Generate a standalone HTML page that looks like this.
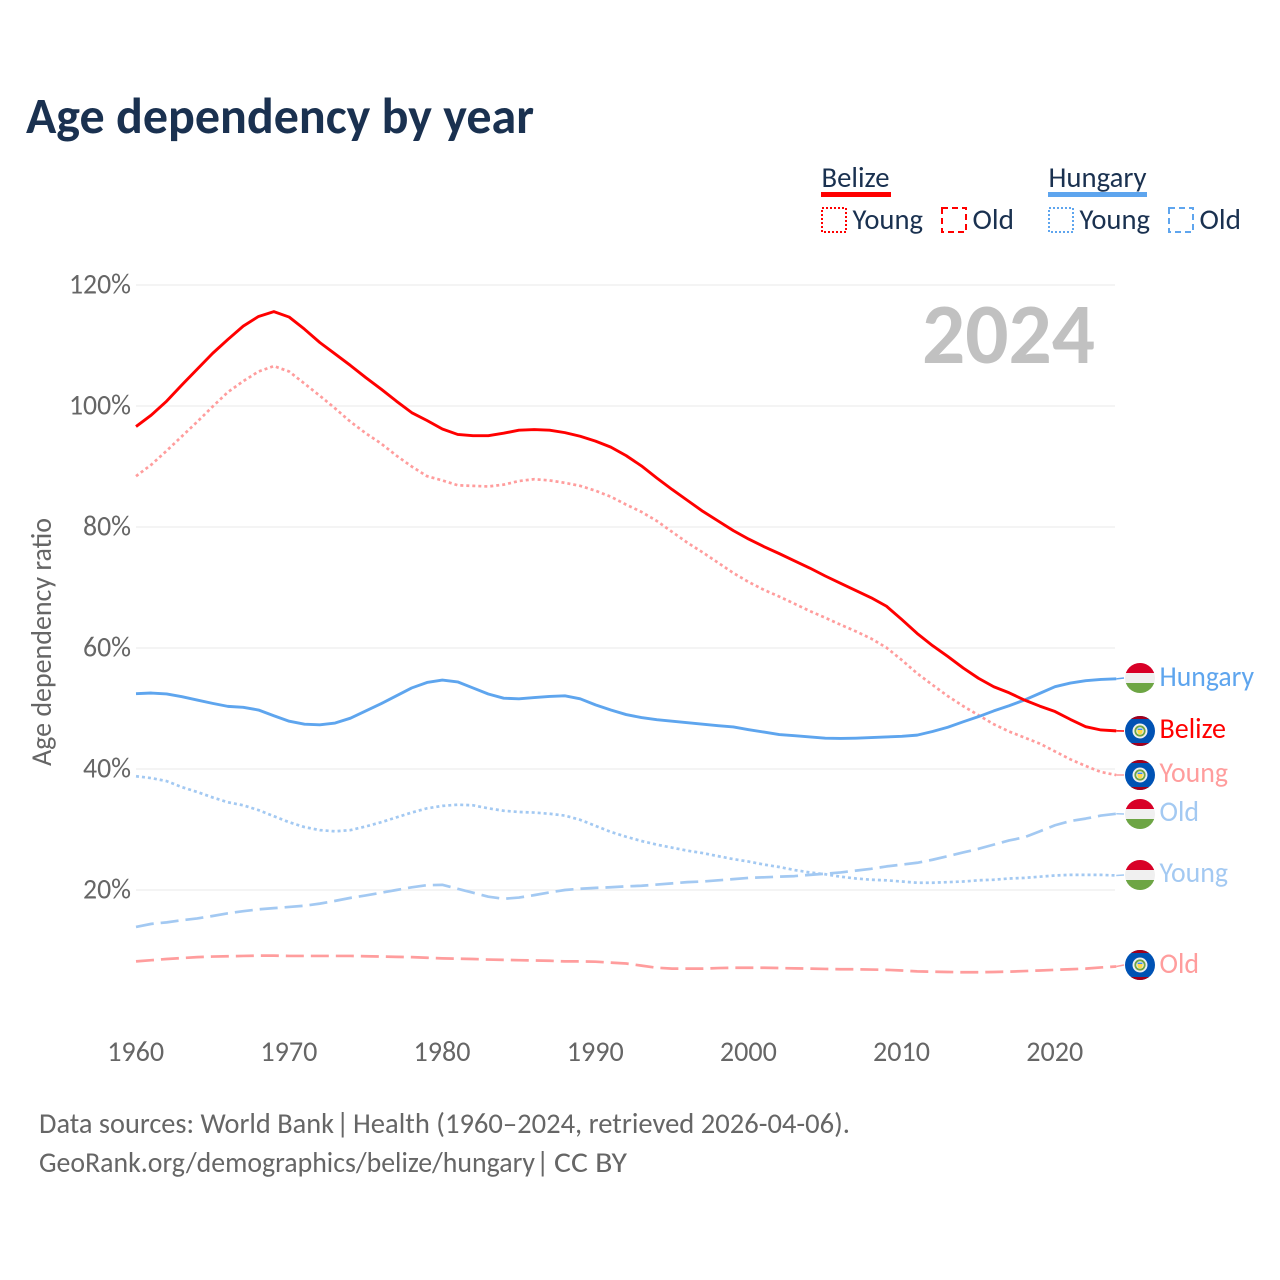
<!DOCTYPE html>
<html lang="en">
<head>
<meta charset="utf-8">
<title>Age dependency by year</title>
<style>
html,body{margin:0;padding:0;background:#fff;}
svg{display:block;}
text{font-family:"Carlito","Lato","Liberation Sans",sans-serif;}
</style>
</head>
<body>
<svg id="chart" xmlns="http://www.w3.org/2000/svg" width="1280" height="1280" viewBox="0 0 1280 1280">
<defs>
<clipPath id="flag-clip"><circle cx="0" cy="0" r="15"/></clipPath>
<g id="flag-hu">
<g clip-path="url(#flag-clip)">
<rect x="-15" y="-15" width="30" height="30" fill="#f0f0f0"/>
<rect x="-15" y="-15" width="30" height="10" fill="#d80027"/>
<rect x="-15" y="5" width="30" height="10" fill="#6da544"/>
</g>
</g>
<g id="flag-bz">
<g clip-path="url(#flag-clip)">
<rect x="-15" y="-15" width="30" height="30" fill="#0052b4"/>
<rect x="-15" y="-15" width="30" height="3" fill="#a2001d"/>
<rect x="-15" y="12" width="30" height="3" fill="#a2001d"/>
<circle r="7.5" fill="#f0f0f0"/>
<circle r="5.6" fill="#6da544"/>
<circle r="3.8" fill="#f0f0f0"/>
<path d="M-2.6 -1 H2.6 V0.6 A2.6 2.6 0 0 1 -2.6 0.6 Z" fill="#ffda44"/>
<rect x="-2.4" y="-2.4" width="4.8" height="1.4" fill="#338af3"/>
</g>
</g>
</defs>

<rect x="0" y="0" width="1280" height="1280" fill="#ffffff"/>

<text x="26" y="133" font-size="51" font-weight="700" fill="#1a3150" textLength="508" lengthAdjust="spacingAndGlyphs">Age dependency by year</text>

<g>
<text x="821.5" y="187" font-size="29" fill="#1a3150" textLength="68" lengthAdjust="spacingAndGlyphs">Belize</text>
<rect x="821" y="192" width="70" height="5" fill="#ff0000"/>
<rect x="822" y="208" width="24" height="24" fill="none" stroke="#ff0000" stroke-width="2" stroke-dasharray="2 2"/>
<text x="852.5" y="229" font-size="29" fill="#1a3150" textLength="70.5" lengthAdjust="spacingAndGlyphs">Young</text>
<rect x="942" y="208" width="24" height="24" fill="none" stroke="#ff0000" stroke-width="2" stroke-dasharray="6 4"/>
<text x="972.5" y="229" font-size="29" fill="#1a3150" textLength="41.5" lengthAdjust="spacingAndGlyphs">Old</text>
<text x="1048.5" y="187" font-size="29" fill="#1a3150" textLength="98" lengthAdjust="spacingAndGlyphs">Hungary</text>
<rect x="1048" y="192" width="99" height="5" fill="#5ea5ee"/>
<rect x="1049" y="208" width="24" height="24" fill="none" stroke="#5ea5ee" stroke-width="2" stroke-dasharray="2 2"/>
<text x="1079.5" y="229" font-size="29" fill="#1a3150" textLength="70.5" lengthAdjust="spacingAndGlyphs">Young</text>
<rect x="1169" y="208" width="24" height="24" fill="none" stroke="#5ea5ee" stroke-width="2" stroke-dasharray="6 4"/>
<text x="1199.5" y="229" font-size="29" fill="#1a3150" textLength="41.5" lengthAdjust="spacingAndGlyphs">Old</text>
</g>

<g id="grid"></g>
<g id="y-ticks"></g>
<g id="x-ticks"></g>

<text transform="translate(51,642) rotate(-90)" text-anchor="middle" font-size="29" fill="#666666" textLength="248" lengthAdjust="spacingAndGlyphs">Age dependency ratio</text>

<text x="922" y="363" font-size="86" font-weight="700" fill="#c1c1c1" textLength="173" lengthAdjust="spacingAndGlyphs">2024</text>

<g id="connectors"></g>
<g id="series"></g>

<g>
<use href="#flag-hu" transform="translate(1140,678)"/>
<text x="1159.5" y="686" font-size="29" fill="#5ea5ee" textLength="94.5" lengthAdjust="spacingAndGlyphs">Hungary</text>
<use href="#flag-bz" transform="translate(1140,731)"/>
<text x="1159.5" y="738" font-size="29" fill="#ff0000" textLength="66.5" lengthAdjust="spacingAndGlyphs">Belize</text>
<use href="#flag-bz" transform="translate(1140,775)"/>
<text x="1159.5" y="782" font-size="29" fill="#ff9d9d" textLength="68.5" lengthAdjust="spacingAndGlyphs">Young</text>
<use href="#flag-hu" transform="translate(1140,814)"/>
<text x="1159.5" y="821" font-size="29" fill="#a3c9f2" textLength="39.5" lengthAdjust="spacingAndGlyphs">Old</text>
<use href="#flag-hu" transform="translate(1140,875)"/>
<text x="1159.5" y="882" font-size="29" fill="#a3c9f2" textLength="68.5" lengthAdjust="spacingAndGlyphs">Young</text>
<use href="#flag-bz" transform="translate(1140,965)"/>
<text x="1159.5" y="973" font-size="29" fill="#ff9d9d" textLength="39.5" lengthAdjust="spacingAndGlyphs">Old</text>
</g>

<g>
<text x="39" y="1133" font-size="29" fill="#666666" textLength="295" lengthAdjust="spacingAndGlyphs">Data sources: World Bank</text>
<text x="336" y="1133" font-size="29" fill="#666666">|</text>
<text x="353" y="1133" font-size="29" fill="#666666" textLength="497" lengthAdjust="spacingAndGlyphs">Health (1960–2024, retrieved 2026-04-06).</text>
<text x="39" y="1172" font-size="29" fill="#666666" textLength="496" lengthAdjust="spacingAndGlyphs">GeoRank.org/demographics/belize/hungary</text>
<text x="536" y="1172" font-size="29" fill="#666666">|</text>
<text x="554" y="1172" font-size="29" fill="#666666" textLength="73" lengthAdjust="spacingAndGlyphs">CC BY</text>
</g>
</svg>

<script>
const startYear = 1960;
const xTickYears = [1960, 1970, 1980, 1990, 2000, 2010, 2020];
const yTickValues = [20, 40, 60, 80, 100, 120];
const yTickLabels = ['20%', '40%', '60%', '80%', '100%', '120%'];

const belizeTotal = [96.6, 98.5, 100.8, 103.5, 106.1, 108.7, 111, 113.2, 114.8, 115.6,
  114.7, 112.7, 110.5, 108.6, 106.7, 104.7, 102.8, 100.8, 98.9, 97.6,
  96.2, 95.3, 95.1, 95.1, 95.5, 96, 96.1, 96, 95.6, 95,
  94.2, 93.2, 91.8, 90.1, 88.1, 86.2, 84.4, 82.6, 81, 79.4,
  78, 76.75, 75.6, 74.4, 73.2, 71.9, 70.7, 69.5, 68.3, 66.9,
  64.7, 62.4, 60.4, 58.6, 56.7, 55, 53.6, 52.6, 51.4, 50.4,
  49.5, 48.2, 47, 46.45, 46.3];
const belizeYoung = [88.4, 90.3, 92.6, 95, 97.4, 99.9, 102.3, 104.1, 105.7, 106.6,
  105.7, 103.7, 101.7, 99.6, 97.4, 95.5, 93.8, 91.8, 90, 88.4,
  87.7, 86.9, 86.8, 86.7, 87, 87.6, 87.9, 87.7, 87.3, 86.8,
  86, 85, 83.7, 82.5, 81, 79.2, 77.4, 75.8, 74.1, 72.4,
  70.9, 69.6, 68.5, 67.3, 66.1, 65, 63.85, 62.75, 61.55, 60.05,
  58, 55.8, 53.9, 52.05, 50.4, 48.9, 47.4, 46.2, 45.2, 44.2,
  42.9, 41.6, 40.5, 39.5, 39];
const belizeOld = [8.2, 8.4, 8.6, 8.75, 8.9, 9, 9.05, 9.1, 9.15, 9.15,
  9.1, 9.1, 9.1, 9.1, 9.1, 9.05, 9, 8.95, 8.9, 8.8,
  8.7, 8.65, 8.6, 8.5, 8.45, 8.4, 8.35, 8.3, 8.2, 8.2,
  8.15, 8, 7.85, 7.5, 7.15, 7, 7, 7, 7.1, 7.15,
  7.15, 7.15, 7.1, 7.05, 7, 6.95, 6.9, 6.9, 6.85, 6.8,
  6.7, 6.55, 6.5, 6.45, 6.4, 6.4, 6.45, 6.5, 6.6, 6.7,
  6.8, 6.9, 7, 7.2, 7.35];
const hungaryTotal = [52.45, 52.56, 52.4, 51.95, 51.4, 50.85, 50.35, 50.2, 49.75, 48.8,
  47.9, 47.4, 47.3, 47.6, 48.4, 49.6, 50.8, 52.1, 53.4, 54.3,
  54.7, 54.4, 53.4, 52.4, 51.7, 51.6, 51.8, 52, 52.1, 51.6,
  50.6, 49.75, 49, 48.5, 48.15, 47.9, 47.65, 47.4, 47.15, 46.95,
  46.5, 46.1, 45.7, 45.5, 45.3, 45.1, 45.05, 45.1, 45.2, 45.3,
  45.4, 45.6, 46.2, 46.9, 47.8, 48.65, 49.6, 50.45, 51.4, 52.5,
  53.6, 54.2, 54.6, 54.8, 54.9];
const hungaryYoung = [38.8, 38.5, 38, 37, 36.2, 35.3, 34.5, 34, 33.2, 32.2,
  31.2, 30.4, 29.9, 29.7, 29.9, 30.5, 31.2, 32, 32.8, 33.5,
  33.9, 34.1, 34, 33.5, 33.1, 32.9, 32.8, 32.6, 32.3, 31.6,
  30.6, 29.6, 28.8, 28.1, 27.5, 27, 26.5, 26.1, 25.6, 25.1,
  24.7, 24.2, 23.8, 23.3, 22.9, 22.6, 22.2, 21.9, 21.7, 21.6,
  21.4, 21.2, 21.2, 21.3, 21.4, 21.6, 21.7, 21.9, 22, 22.2,
  22.4, 22.5, 22.5, 22.5, 22.4];
const hungaryOld = [13.9, 14.4, 14.65, 15, 15.3, 15.7, 16.15, 16.5, 16.8, 17,
  17.2, 17.4, 17.75, 18.2, 18.7, 19.1, 19.55, 20, 20.45, 20.8,
  20.85, 20.2, 19.55, 18.9, 18.55, 18.75, 19.15, 19.6, 20, 20.2,
  20.35, 20.45, 20.6, 20.7, 20.9, 21.1, 21.3, 21.4, 21.6, 21.8,
  22, 22.1, 22.2, 22.3, 22.5, 22.7, 22.9, 23.2, 23.5, 23.9,
  24.2, 24.5, 25, 25.6, 26.2, 26.8, 27.5, 28.2, 28.7, 29.7,
  30.7, 31.4, 31.8, 32.3, 32.6];

const SVG_NS = 'http://www.w3.org/2000/svg';
function xScale(year) { return 136 + (year - 1960) * 15.317; }
function yScale(value) { return 1011 - value * 6.05; }
function make(tag, parentId) {
  const el = document.createElementNS(SVG_NS, tag);
  document.getElementById(parentId).appendChild(el);
  return el;
}

yTickValues.forEach(function (value, i) {
  const line = make('line', 'grid');
  
  
  line.setAttribute('x1', 136);
  line.setAttribute('x2', 1115);
  line.setAttribute('y1', yScale(value));
  line.setAttribute('y2', yScale(value));
  line.setAttribute('stroke', '#e8e8e8');
  line.setAttribute('stroke-width', 1);

  const label = make('text', 'y-ticks');
  
  
  label.setAttribute('x', 131);
  label.setAttribute('y', yScale(value) + 8.5);
  label.setAttribute('text-anchor', 'end');
  label.setAttribute('font-size', 29);
  label.setAttribute('fill', '#666666');
  label.setAttribute('textLength', yTickLabels[i].length === 4 ? 62 : 48);
  label.setAttribute('lengthAdjust', 'spacingAndGlyphs');
  label.textContent = yTickLabels[i];
});

xTickYears.forEach(function (year) {
  const label = make('text', 'x-ticks');
  
  
  label.setAttribute('x', xScale(year) - 0.3);
  label.setAttribute('y', 1061);
  label.setAttribute('text-anchor', 'middle');
  label.setAttribute('font-size', 29);
  label.setAttribute('fill', '#666666');
  label.setAttribute('textLength', 57);
  label.setAttribute('lengthAdjust', 'spacingAndGlyphs');
  label.textContent = String(year);
});

const seriesList = [
  { key: 'hungary-old', values: hungaryOld, color: '#a3c9f2', width: 2.7, dash: '18 7', flagY: 814 },
  { key: 'hungary-young', values: hungaryYoung, color: '#a3c9f2', width: 2.7, dash: '3 3', flagY: 875 },
  { key: 'belize-old', values: belizeOld, color: '#ff9d9d', width: 2.7, dash: '18 7', flagY: 965 },
  { key: 'belize-young', values: belizeYoung, color: '#ff9d9d', width: 2.7, dash: '3 3', flagY: 775 },
  { key: 'hungary-total', values: hungaryTotal, color: '#5ea5ee', width: 2.9, dash: null, flagY: 678 },
  { key: 'belize-total', values: belizeTotal, color: '#ff0000', width: 2.9, dash: null, flagY: 731 }
];

seriesList.forEach(function (s) {
  const d = s.values.map(function (v, i) {
    return (i ? 'L' : 'M') + xScale(startYear + i).toFixed(2) + ' ' + yScale(v).toFixed(2);
  }).join(' ');
  const path = make('path', 'series');
  
  
  path.setAttribute('d', d);
  path.setAttribute('fill', 'none');
  path.setAttribute('stroke', s.color);
  path.setAttribute('stroke-width', s.width);
  path.setAttribute('stroke-linejoin', 'round');
  if (s.dash) path.setAttribute('stroke-dasharray', s.dash);

  const last = s.values[s.values.length - 1];
  const connector = make('line', 'connectors');
  
  
  connector.setAttribute('x1', xScale(startYear + s.values.length - 1));
  connector.setAttribute('y1', yScale(last));
  connector.setAttribute('x2', 1124);
  connector.setAttribute('y2', s.flagY);
  connector.setAttribute('stroke', s.color);
  connector.setAttribute('stroke-width', 1.5);
});
</script>
</body>
</html>
